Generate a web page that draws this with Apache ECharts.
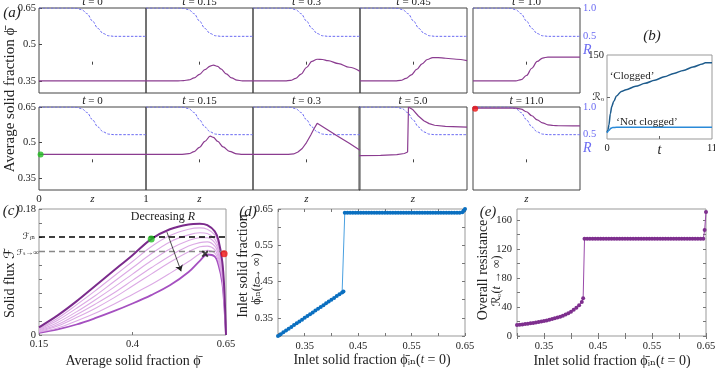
<!DOCTYPE html>
<html><head><meta charset="utf-8">
<script src="https://cdn.jsdelivr.net/npm/echarts@6/dist/echarts.min.js"></script>
<style>html,body{margin:0;padding:0;background:#fff}#c{width:715px;height:368px}</style>
</head><body><div id="c"></div>
<script>
// ---------- DATA ----------
// (a) panel times
const topTimes = ['0', '0.15', '0.3', '0.45', '1.0'];
const botTimes = ['0', '0.15', '0.3', '5.0', '11.0'];
// (a) resistance profile R(z) (dashed)
const rZ = [0, 0.3, 0.35, 0.4, 0.45, 0.5, 0.55, 0.6, 0.65, 0.7, 1];
const rV = [1, 1, 0.995, 0.97, 0.9, 0.77, 0.64, 0.55, 0.51, 0.5, 0.5];
// (a) top row: phi(z)
const phiT1 = [[0,0.35],[0.5,0.35],[1,0.35]];
const phiT2 = [[0,0.35],[0.3,0.35],[0.35,0.351],[0.4,0.354],[0.45,0.362],[0.5,0.377],[0.55,0.396],[0.6,0.411],[0.63,0.415],[0.67,0.41],[0.7,0.399],[0.75,0.379],[0.8,0.362],[0.85,0.353],[0.9,0.35],[1,0.35]];
const phiT3 = [[0,0.35],[0.3,0.35],[0.35,0.352],[0.4,0.36],[0.45,0.378],[0.5,0.405],[0.55,0.43],[0.6,0.439],[0.65,0.438],[0.7,0.433],[0.8,0.421],[0.9,0.406],[1,0.389]];
const phiT4 = [[0,0.35],[0.33,0.35],[0.38,0.352],[0.43,0.36],[0.48,0.375],[0.53,0.397],[0.58,0.42],[0.63,0.438],[0.68,0.446],[0.73,0.446],[0.8,0.443],[0.9,0.439],[1,0.433]];
const phiT5 = [[0,0.35],[0.4,0.35],[0.45,0.355],[0.5,0.372],[0.55,0.402],[0.6,0.43],[0.65,0.444],[0.7,0.448],[0.8,0.448],[1,0.448]];
// (a) bottom row: phi(z)
const phiB1 = [[0,0.45],[0.5,0.45],[1,0.45]];
const phiB2 = [[0,0.45],[0.32,0.45],[0.4,0.453],[0.45,0.462],[0.5,0.48],[0.55,0.505],[0.6,0.527],[0.63,0.522],[0.67,0.505],[0.72,0.482],[0.78,0.463],[0.85,0.452],[0.9,0.45],[1,0.45]];
const phiB3 = [[0,0.45],[0.33,0.45],[0.38,0.452],[0.42,0.46],[0.46,0.475],[0.5,0.5],[0.54,0.532],[0.57,0.558],[0.6,0.581],[0.7,0.553],[0.8,0.525],[0.9,0.497],[1,0.468]];
const phiB4 = [[0,0.445],[0.2,0.446],[0.35,0.449],[0.42,0.454],[0.45,0.46],[0.457,0.465],[0.458,0.65],[0.47,0.649],[0.5,0.638],[0.55,0.612],[0.6,0.592],[0.65,0.58],[0.7,0.573],[0.8,0.568],[1,0.565]];
const phiB5 = [[0,0.645],[0.4,0.645],[0.45,0.641],[0.5,0.63],[0.55,0.613],[0.6,0.596],[0.65,0.583],[0.7,0.575],[0.75,0.572],[0.8,0.571],[1,0.57]];
const dotB1 = [[0.015, 0.45]];
const dotB5 = [[0.02, 0.643]];
// (b) overall resistance vs time
const bT_clog = [0, 0.1, 0.2, 0.35, 0.5, 0.7, 1, 1.5, 2, 3, 4, 5, 6, 7, 8, 9, 10, 10.3, 11];
const bR_clog = [12, 16, 25, 45, 58, 67, 77, 85, 88, 94, 99.5, 105, 111, 117, 122.5, 128.5, 134, 136, 136];
const bT_free = [0, 0.2, 0.4, 0.6, 1, 11];
const bR_free = [11, 15, 19, 20.5, 21, 21];
// (c) flux curves F(phi) for decreasing R
const cPhi = [0.15, 0.2, 0.25, 0.3, 0.35, 0.4, 0.45, 0.5, 0.55, 0.58, 0.6, 0.62, 0.63, 0.64, 0.645, 0.65];
const cF1 = [0.011,0.028,0.048,0.07,0.092,0.114,0.137,0.151,0.158,0.159,0.157,0.148,0.135,0.105,0.07,0];
const cF2 = [0.009,0.024,0.043,0.063,0.084,0.105,0.126,0.142,0.151,0.153,0.151,0.143,0.13,0.1,0.066,0];
const cF3 = [0.008,0.021,0.038,0.056,0.076,0.096,0.116,0.133,0.143,0.146,0.145,0.137,0.125,0.096,0.062,0];
const cF4 = [0.007,0.018,0.033,0.05,0.068,0.087,0.106,0.123,0.135,0.139,0.139,0.132,0.12,0.092,0.058,0];
const cF5 = [0.006,0.015,0.029,0.044,0.06,0.078,0.096,0.113,0.127,0.132,0.133,0.127,0.115,0.088,0.055,0];
const cF6 = [0.005,0.013,0.025,0.038,0.053,0.07,0.087,0.104,0.119,0.126,0.127,0.122,0.11,0.084,0.052,0];
const cF7 = [0.004,0.01,0.02,0.031,0.044,0.058,0.072,0.088,0.105,0.116,0.121,0.117,0.105,0.08,0.048,0];
const cF8 = [0.003,0.008,0.015,0.024,0.034,0.045,0.057,0.071,0.09,0.106,0.115,0.112,0.1,0.075,0.045,0];
const cFin = 0.137, cFinf = 0.116;
const cGreen = [[0.45, 0.137]], cRed = [[0.645, 0.116]], cCross = [[0.594, 0.116]];
const cArrow = [[0.492, 0.147], [0.53, 0.091]];
// (d),(e) inlet fraction sweep (rows of five)
const dX = [
  0.300,0.305,0.310,0.315,0.320,
  0.325,0.330,0.335,0.340,0.345,
  0.350,0.355,0.360,0.365,0.370,
  0.375,0.380,0.385,0.390,0.395,
  0.400,0.405,0.410,0.415,0.420,
  0.4225,
  0.425,0.430,0.435,0.440,0.445,
  0.450,0.455,0.460,0.465,0.470,
  0.475,0.480,0.485,0.490,0.495,
  0.500,0.505,0.510,0.515,0.520,
  0.525,0.530,0.535,0.540,0.545,
  0.550,0.555,0.560,0.565,0.570,
  0.575,0.580,0.585,0.590,0.595,
  0.600,0.605,0.610,0.615,0.620,
  0.625,0.630,0.635,0.640,0.645,
  0.6475,0.650];
const dY = [
  0.300,0.305,0.310,0.315,0.320,
  0.325,0.330,0.335,0.340,0.345,
  0.350,0.355,0.360,0.365,0.370,
  0.375,0.380,0.385,0.390,0.395,
  0.400,0.405,0.410,0.415,0.420,
  0.4225,
  0.640,0.640,0.640,0.640,0.640,
  0.640,0.640,0.640,0.640,0.640,
  0.640,0.640,0.640,0.640,0.640,
  0.640,0.640,0.640,0.640,0.640,
  0.640,0.640,0.640,0.640,0.640,
  0.640,0.640,0.640,0.640,0.640,
  0.640,0.640,0.640,0.640,0.640,
  0.640,0.640,0.640,0.640,0.640,
  0.640,0.640,0.640,0.640,0.641,
  0.645,0.650];
const eY = [
  15,15.5,16,16.5,17,
  17.5,18,18.7,19.3,20,
  20.7,21.5,22.4,23.3,24.3,
  25.4,26.6,28,29.6,31.4,
  33.5,36,39,42.5,47,
  52,
  134,134,134,134,134,
  134,134,134,134,134,
  134,134,134,134,134,
  134,134,134,134,134,
  134,134,134,134,134,
  134,134,134,134,134,
  134,134,134,134,134,
  134,134,134,134,134,
  134,134,134,134,134,
  146,171];

// ---------- BUILD ----------
const FONT = "'Liberation Serif','DejaVu Serif','DejaVu Sans',serif";
const RCOL = '#6a6af2', PCOL = '#8b3c90', TXT = '#222';
const grids = [], xAxis = [], yAxis = [], series = [], graphic = [];
function grid(l, t, w, h, bc) { grids.push({left:l, top:t, width:w, height:h, show:true, borderColor:bc, borderWidth:1, backgroundColor:'transparent', containLabel:false, outerBoundsMode:'none'}); return grids.length - 1; }
function xa(o) { xAxis.push(Object.assign({type:'value', axisLine:{show:false}, splitLine:{show:false}}, o)); return xAxis.length - 1; }
function ya(o) { yAxis.push(Object.assign({type:'value', axisLine:{show:false}, splitLine:{show:false}}, o)); return yAxis.length - 1; }
function lab(o) { return Object.assign({fontFamily:FONT, fontSize:10.5, color:TXT}, o); }
function txt(x, y, text, o) {
  o = o || {};
  const font = (o.italic ? 'italic ' : '') + (o.size || 12) + 'px ' + FONT;
  graphic.push({type:'text', x:x, y:y, rotation:o.rot || 0, z:100, silent:true,
    style:{text:text, fill:o.color || TXT, font:font, textAlign:o.align || 'center', textVerticalAlign:'middle', align:o.align || 'center', verticalAlign:'middle', rich:o.rich}});
}
const ital = {i:{fontStyle:'italic', fontFamily:FONT}};

// (a)
const rows = [
  {top:8, h:85, times:topTimes, phis:[phiT1,phiT2,phiT3,phiT4,phiT5], lefts:[39,146,253,360,473], sharp:[false,false,false,false,false]},
  {top:107, h:83, times:botTimes, phis:[phiB1,phiB2,phiB3,phiB4,phiB5], lefts:[39,146,253,359,473], sharp:[false,false,true,true,false]}
];
rows.forEach((r, ri) => {
  r.lefts.forEach((l, i) => {
    const w = (i === 3 && ri === 1) ? 108 : 107;
    const g = grid(l, r.top, w, r.h, '#444');
    const xi = xa({gridIndex:g, min:0, max:1,
      axisTick:{show:true, inside:true, length:3, customValues:[0.5], lineStyle:{color:'#444'}},
      axisLabel:lab({show:ri === 1, customValues:i === 0 ? [0,0.5,1] : [0.5], margin:4, fontSize:11,
        formatter:v => v === 0.5 ? '{i|z}' : String(v), rich:{i:{fontStyle:'italic', fontFamily:FONT, fontSize:11, color:TXT}}})});
    const yl = ya({gridIndex:g, min:0.3, max:0.65,
      axisTick:{show:i === 0, inside:true, length:3, customValues:[0.35,0.5,0.65], lineStyle:{color:'#444'}},
      axisLabel:lab({show:i === 0, customValues:[0.35,0.5,0.65], margin:3, formatter:v => v === 0.5 ? '0.5' : v.toFixed(2)})});
    const yr = ya({gridIndex:g, position:'right', min:-0.5, max:1,
      axisTick:{show:false},
      axisLabel:lab({show:i === 4, customValues:[1,0.5,0.25], margin:3, color:RCOL,
        formatter:v => v === 0.25 ? '{r|R}' : v.toFixed(1), rich:{r:{fontStyle:'italic', fontSize:14, color:RCOL, fontFamily:FONT}}})});
    series.push({type:'line', xAxisIndex:xi, yAxisIndex:yr, data:rZ.map((z,k) => [z, rV[k]]), showSymbol:false, smooth:0.35, smoothMonotone:'x', silent:true,
      lineStyle:{color:RCOL, width:1, type:[2.5,1.5]}});
    series.push({type:'line', xAxisIndex:xi, yAxisIndex:yl, data:r.phis[i], showSymbol:false, smooth:r.sharp[i] ? false : 0.35, smoothMonotone:'x', silent:true,
      lineStyle:{color:PCOL, width:1.2}});
    if (ri === 1 && i === 0) series.push({type:'scatter', xAxisIndex:xi, yAxisIndex:yl, data:dotB1, symbolSize:6, itemStyle:{color:'#1fbf1f'}, z:5});
    if (ri === 1 && i === 4) series.push({type:'scatter', xAxisIndex:xi, yAxisIndex:yl, data:dotB5, symbolSize:6, itemStyle:{color:'#ee1111'}, z:5});
    txt(l + w / 2, r.top - 6, '{i|t} = ' + r.times[i], {size:11, rich:ital});
  });
});
txt(12, 13, '(a)', {size:15, italic:true});
txt(10, 100, 'Average solid fraction ϕ̄', {size:15, rot:Math.PI / 2});

// (b)
{
  const g = grid(607, 55, 105, 84, '#999');
  const xi = xa({gridIndex:g, min:0, max:11,
    axisTick:{inside:true, length:3, customValues:[5.5], lineStyle:{color:'#666'}},
    axisLabel:lab({customValues:[0,5.5,11], margin:4, formatter:v => v === 5.5 ? '{i|t}' : String(v), rich:{i:{fontStyle:'italic', fontSize:14, fontFamily:FONT, color:TXT}}})});
  const yi = ya({gridIndex:g, min:0, max:150,
    axisTick:{inside:true, length:3, customValues:[75], lineStyle:{color:'#666'}},
    axisLabel:lab({customValues:[75,150], margin:3, formatter:v => v === 75 ? 'ℛₒ' : '150'})});
  series.push({type:'line', xAxisIndex:xi, yAxisIndex:yi, data:bT_clog.map((t,k) => [t, bR_clog[k]]), showSymbol:false, smooth:0.3, smoothMonotone:'x', lineStyle:{color:'#1d5b8c', width:1.5}});
  series.push({type:'line', xAxisIndex:xi, yAxisIndex:yi, data:bT_free.map((t,k) => [t, bR_free[k]]), showSymbol:false, smooth:0.3, smoothMonotone:'x', lineStyle:{color:'#2a8ad8', width:1.5}});
  txt(652, 36, '(b)', {size:15, italic:true});
  txt(632, 76, '‘Clogged’', {size:11});
  txt(647, 122, '‘Not clogged’', {size:11});
}

// (c)
{
  const g = grid(39, 209, 187, 126, '#999');
  const xi = xa({gridIndex:g, min:0.15, max:0.65,
    axisTick:{inside:true, length:3, customValues:[0.15,0.4,0.65], lineStyle:{color:'#777'}},
    axisLabel:lab({customValues:[0.15,0.4,0.65], margin:4, formatter:v => v === 0.4 ? '0.4' : v.toFixed(2)})});
  const yi = ya({gridIndex:g, min:0, max:0.18,
    axisTick:{inside:true, length:3, customValues:[0,0.02,0.04,0.06,0.08,0.1,0.12,0.14,0.16,0.18], lineStyle:{color:'#777'}},
    axisLabel:lab({customValues:[0,0.18], margin:3, formatter:v => v === 0 ? '0' : '0.18'})});
  const cs = [cF8, cF7, cF6, cF5, cF4, cF3, cF2, cF1];
  cs.forEach((arr, k) => {
    const top = k === 7, bot = k === 0;
    series.push({type:'line', xAxisIndex:xi, yAxisIndex:yi, data:cPhi.map((p,j) => [p, arr[j]]), showSymbol:false, smooth:0.35, silent:true,
      lineStyle:{color: top ? '#7b2b8c' : bot ? '#a550c0' : '#dcaae5', width: top ? 2 : bot ? 1.8 : 1.1}, z: top ? 4 : 3});
  });
  series.push({type:'line', xAxisIndex:xi, yAxisIndex:yi, data:[], silent:true,
    markLine:{silent:true, symbol:['none','none'], label:{show:false},
      data:[
        {yAxis:cFin, lineStyle:{color:'#000', type:[6,4], width:1.6}},
        {yAxis:cFinf, lineStyle:{color:'#888', type:[6,4], width:1.3}},
        [{coord:cArrow[0], symbol:'none', lineStyle:{color:'#222', width:0.8, type:'solid'}}, {coord:cArrow[1], symbol:'arrow', symbolSize:6}]
      ]}});
  series.push({type:'scatter', xAxisIndex:xi, yAxisIndex:yi, data:cGreen, symbolSize:7, itemStyle:{color:'#22bb22'}, z:6});
  series.push({type:'scatter', xAxisIndex:xi, yAxisIndex:yi, data:cRed, symbolSize:7, itemStyle:{color:'#ee1111'}, z:6});
  series.push({type:'scatter', xAxisIndex:xi, yAxisIndex:yi, data:cCross, symbolSize:7, itemStyle:{color:'#111'}, z:6,
    symbol:'path://M2,0 L5,3 L8,0 L10,2 L7,5 L10,8 L8,10 L5,7 L2,10 L0,8 L3,5 L0,2 Z'});
  txt(11, 211, '(c)', {size:15, italic:true});
  txt(163, 217, 'Decreasing {i|R}', {size:12, rich:ital});
  txt(10, 283, 'Solid flux ℱ', {size:14, rot:Math.PI / 2});
  txt(29, 237, 'ℱᵢₙ', {size:9});
  txt(28, 253, 'ℱₜ→∞', {size:8});
  txt(133, 361, 'Average solid fraction ϕ̄', {size:14});
}

// (d),(e)
function sweepPanel(left, width, ymin, ymax, yTicks, yLabels, yFmt, yData, col, lineCol) {
  const g = grid(left, 209, width, 127, '#999');
  const xTickVals = [0.3,0.35,0.4,0.45,0.5,0.55,0.6,0.65];
  const xLab = [0.35,0.45,0.55,0.65];
  const tick = {inside:true, length:3, lineStyle:{color:'#777'}};
  const xi = xa({gridIndex:g, min:0.3, max:0.65, axisTick:Object.assign({customValues:xTickVals}, tick),
    axisLabel:lab({customValues:xLab, margin:5, formatter:v => v.toFixed(2)})});
  xa({gridIndex:g, position:'top', min:0.3, max:0.65, axisTick:Object.assign({customValues:xTickVals}, tick), axisLabel:{show:false}});
  const yi = ya({gridIndex:g, min:ymin, max:ymax, axisTick:Object.assign({customValues:yTicks}, tick),
    axisLabel:lab({customValues:yLabels, margin:5, formatter:yFmt})});
  ya({gridIndex:g, position:'right', min:ymin, max:ymax, axisTick:Object.assign({customValues:yTicks}, tick), axisLabel:{show:false}});
  series.push({type:'line', xAxisIndex:xi, yAxisIndex:yi, data:dX.map((x,k) => [x, yData[k]]), symbol:'circle', symbolSize:4, showSymbol:true,
    itemStyle:{color:col}, lineStyle:{color:lineCol, width:1}, silent:true});
}
sweepPanel(278, 187, 0.3, 0.65, [0.3,0.35,0.4,0.45,0.5,0.55,0.6,0.65], [0.35,0.45,0.55,0.65], v => v.toFixed(2), dY, '#0a6fc0', '#4aa0e0');
sweepPanel(517, 189, 0, 175, [0,20,40,60,80,100,120,140,160], [0,40,80,120,160], v => String(v), eY, '#7e2f8e', '#9a4aaa');
txt(248, 212, '(d)', {size:15, italic:true});
txt(243, 266, 'Inlet solid fraction', {size:14, rot:Math.PI / 2});
txt(257, 279, 'ϕ̄ᵢₙ({i|t} → ∞)', {size:12, rot:Math.PI / 2, rich:ital});
txt(372, 360, 'Inlet solid fraction ϕ̄ᵢₙ({i|t} = 0)', {size:14, rich:ital});
txt(488, 212, '(e)', {size:15, italic:true});
txt(483, 270, 'Overall resistance', {size:14, rot:Math.PI / 2});
txt(497, 281, 'ℛₒ({i|t} → ∞)', {size:12, rot:Math.PI / 2, rich:ital});
txt(612, 361, 'Inlet solid fraction ϕ̄ᵢₙ({i|t} = 0)', {size:14, rich:ital});

const chart = echarts.init(document.getElementById('c'));
chart.setOption({animation:false, backgroundColor:'#fff', textStyle:{fontFamily:FONT}, grid:grids, xAxis:xAxis, yAxis:yAxis, series:series, graphic:graphic});
</script></body></html>
